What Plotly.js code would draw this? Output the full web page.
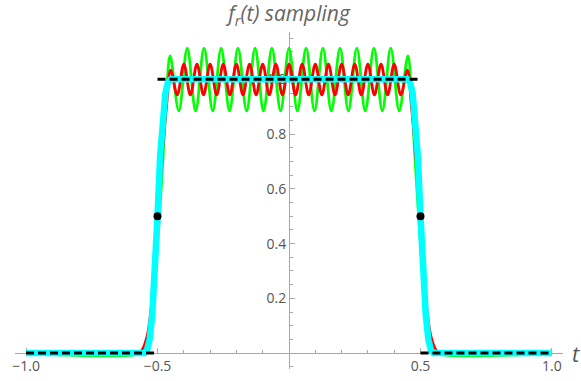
<!DOCTYPE html>
<html>
<head>
<meta charset="utf-8">
<script src="https://cdn.plot.ly/plotly-3.0.1.min.js"></script>
<style>html,body{margin:0;padding:0;background:#fff;}</style>
</head>
<body>
<div id="chart" style="width:581px;height:381px;"></div>
<script>
// ideal rectangle (black dashed)
const rectT = [-1.0, -0.5, null, -0.5, 0.5, null, 0.5, 1.0];
const rectY = [0, 0, null, 1, 1, null, 0, 0];

// smooth target (cyan)
const cyanT = [-1.0, -0.55, -0.54, -0.53, -0.52, -0.51, -0.5, -0.49, -0.48, -0.47, -0.46, -0.45,
               0.45, 0.46, 0.47, 0.48, 0.49, 0.5, 0.51, 0.52, 0.53, 0.54, 0.55, 1.0];
const cyanY = [0, 0, 0.01, 0.05, 0.14, 0.28, 0.5, 0.72, 0.86, 0.95, 0.99, 1.0,
               1.0, 0.99, 0.95, 0.86, 0.72, 0.5, 0.28, 0.14, 0.05, 0.01, 0, 0];

// red reconstruction (extrema)
const redT = [-1.0, -0.58, -0.56, -0.54, -0.52, -0.5, -0.48, -0.466, -0.45,
  -0.425, -0.4, -0.375, -0.35, -0.325, -0.3, -0.275, -0.25, -0.225, -0.2, -0.175, -0.15,
  -0.125, -0.1, -0.075, -0.05, -0.025, 0, 0.025, 0.05, 0.075, 0.1, 0.125, 0.15, 0.175,
  0.2, 0.225, 0.25, 0.275, 0.3, 0.325, 0.35, 0.375, 0.4, 0.425,
  0.45, 0.466, 0.48, 0.5, 0.52, 0.54, 0.56, 0.58, 1.0];
const redY = [0, 0, 0.01, 0.06, 0.2, 0.48, 0.75, 0.9, 1.034,
  0.943, 1.056, 0.943, 1.056, 0.943, 1.056, 0.943, 1.056, 0.943, 1.056, 0.943, 1.056,
  0.943, 1.056, 0.943, 1.056, 0.943, 1.056, 0.943, 1.056, 0.943, 1.056, 0.943, 1.056, 0.943,
  1.056, 0.943, 1.056, 0.943, 1.056, 0.943, 1.056, 0.943, 1.056, 0.943,
  1.034, 0.9, 0.75, 0.48, 0.2, 0.06, 0.01, 0, 0];

// green reconstruction (extrema)
const greenT = [-1.0, -0.56, -0.54, -0.52, -0.505, -0.493, -0.48, -0.468, -0.452,
  -0.419, -0.387, -0.355, -0.323, -0.29, -0.258, -0.226, -0.194, -0.161, -0.129, -0.097,
  -0.065, -0.032, 0, 0.032, 0.065, 0.097, 0.129, 0.161, 0.194, 0.226, 0.258, 0.29, 0.323,
  0.355, 0.387, 0.419,
  0.452, 0.468, 0.48, 0.493, 0.505, 0.52, 0.54, 0.56, 1.0];
const greenY = [0, 0, 0.02, 0.12, 0.33, 0.5, 0.7, 0.9, 1.086,
  0.885, 1.114, 0.885, 1.114, 0.885, 1.114, 0.885, 1.114, 0.885, 1.114, 0.885,
  1.114, 0.885, 1.114, 0.885, 1.114, 0.885, 1.114, 0.885, 1.114, 0.885, 1.114, 0.885, 1.114,
  0.885, 1.114, 0.885,
  1.086, 0.9, 0.7, 0.5, 0.33, 0.12, 0.02, 0, 0];

// half-value points
const dotT = [-0.5, 0.5];
const dotY = [0.5, 0.5];

// axes
const xRange = [-1.042, 1.042];
const yRange = [-0.058, 1.173];
const xTickVals = [-1.0, -0.5, 0.5, 1.0];
const xTickText = ['\u22121.0', '\u22120.5', '0.5', '1.0'];
const xMinorVals = [-0.9, -0.8, -0.7, -0.6, -0.4, -0.3, -0.2, -0.1, 0.1, 0.2, 0.3, 0.4, 0.6, 0.7, 0.8, 0.9];
const yTickVals = [0.2, 0.4, 0.6, 0.8, 1.0];
const yTickText = ['0.2', '0.4', '0.6', '0.8', '1.0'];
const yMinorVals = [-0.05, 0.05, 0.1, 0.15, 0.25, 0.3, 0.35, 0.45, 0.5, 0.55, 0.65, 0.7, 0.75, 0.85, 0.9, 0.95, 1.05, 1.1, 1.15];

const axisGray = '#a8a8a8';
const labelGray = '#555555';

const traces = [
  {x: greenT, y: greenY, mode: 'lines', line: {color: '#00ff00', width: 2.8, shape: 'spline', smoothing: 1}, hoverinfo: 'skip'},
  {x: redT, y: redY, mode: 'lines', line: {color: '#ff0000', width: 2.8, shape: 'spline', smoothing: 1}, hoverinfo: 'skip'},
  {x: cyanT, y: cyanY, mode: 'lines', line: {color: '#00ffff', width: 6.5}, hoverinfo: 'skip'},
  {x: rectT, y: rectY, mode: 'lines', line: {color: '#000000', width: 3, dash: '8px,4px'}, hoverinfo: 'skip'},
  {x: dotT, y: dotY, mode: 'markers', marker: {color: '#000000', size: 8}, hoverinfo: 'skip'}
];

const layout = {
  width: 581, height: 381,
  margin: {l: 15, r: 18, t: 32, b: 12, pad: 0},
  paper_bgcolor: '#ffffff', plot_bgcolor: '#ffffff',
  showlegend: false,
  font: {family: 'Open Sans, Noto Sans, sans-serif', color: labelGray},
  title: {
    text: 'f<sub>r</sub>(t) sampling',
    font: {family: 'Open Sans, Noto Sans, sans-serif', size: 21, color: '#666666', style: 'italic'},
    x: 0.5, xref: 'paper', xanchor: 'center',
    y: 1 - 14 / 381, yref: 'container', yanchor: 'middle'
  },
  xaxis: {
    range: xRange, anchor: 'free',
    position: (0 - yRange[0]) / (yRange[1] - yRange[0]),
    showgrid: false, zeroline: false, showline: true, linecolor: axisGray, linewidth: 1,
    ticks: 'inside', ticklen: 5, tickwidth: 1, tickcolor: axisGray,
    tickmode: 'array', tickvals: xTickVals, ticktext: xTickText,
    tickfont: {size: 14, color: labelGray},
    minor: {tickmode: 'array', tickvals: xMinorVals, ticks: 'inside', ticklen: 3, tickcolor: axisGray, showgrid: false},
    layer: 'below traces', fixedrange: true
  },
  yaxis: {
    range: yRange, anchor: 'free',
    position: (0 - xRange[0]) / (xRange[1] - xRange[0]),
    showgrid: false, zeroline: false, showline: true, linecolor: axisGray, linewidth: 1,
    ticks: 'inside', ticklen: 5, tickwidth: 1, tickcolor: axisGray,
    tickmode: 'array', tickvals: yTickVals, ticktext: yTickText,
    tickfont: {size: 14, color: labelGray},
    minor: {tickmode: 'array', tickvals: yMinorVals, ticks: 'inside', ticklen: 3, tickcolor: axisGray, showgrid: false},
    layer: 'below traces', fixedrange: true
  },
  annotations: [
    {text: 't', x: 1.023, y: (0 - yRange[0]) / (yRange[1] - yRange[0]), xref: 'paper', yref: 'paper', showarrow: false,
     xanchor: 'center', yanchor: 'middle', font: {family: 'Open Sans, Noto Sans, sans-serif', size: 22, color: labelGray, style: 'italic'}}
  ]
};

Plotly.newPlot('chart', traces, layout, {displayModeBar: false, staticPlot: true});
</script>
</body>
</html>
